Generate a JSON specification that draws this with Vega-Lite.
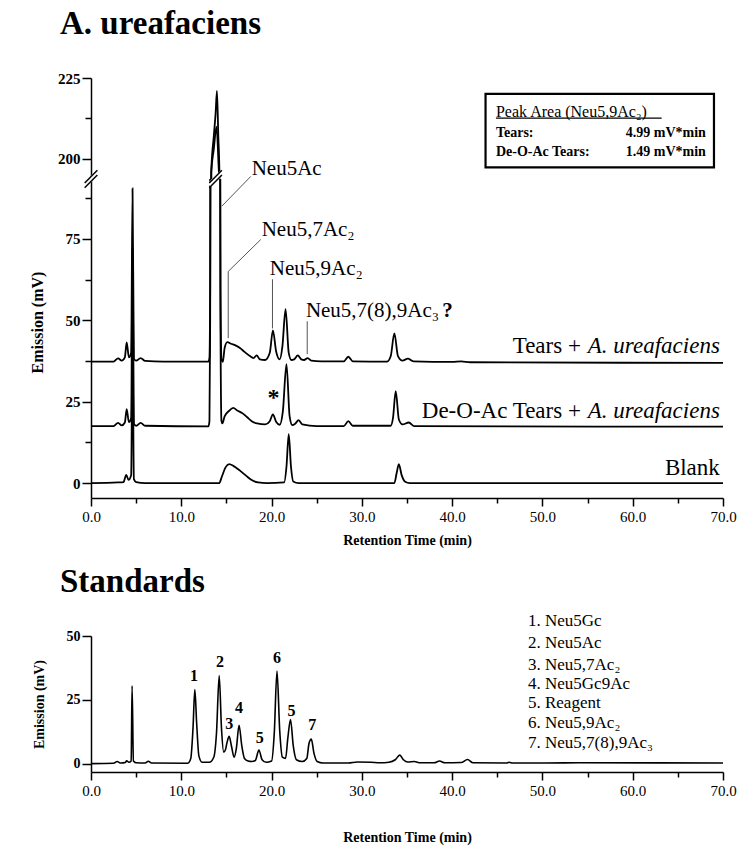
{
"$schema": "https://vega.github.io/schema/vega-lite/v6.json",
"background": "white",
"padding": {"left": 29, "top": 8, "right": 10, "bottom": 5},
"config": {
  "view": {"stroke": null},
  "font": "Liberation Serif",
  "axis": {"domainColor": "black", "domainWidth": 1.5, "tickColor": "black", "tickWidth": 1.5, "labelColor": "black", "titleColor": "black", "labelFont": "Liberation Serif", "titleFont": "Liberation Serif", "grid": false},
  "title": {"font": "Liberation Serif", "color": "black"},
  "text": {"font": "Liberation Serif", "color": "black"}
},
"title": {"text": "A. ureafaciens", "anchor": "start", "frame": "group", "fontSize": 33, "fontWeight": "bold", "dx": -31, "offset": 30},
"datasets": {
  "traces": [
    {"s":"Tears","t":0,"v":37.3},{"s":"Tears","t":2.5,"v":37.3},{"s":"Tears","t":3.0,"v":38.3},{"s":"Tears","t":3.4,"v":37.6},{"s":"Tears","t":3.75,"v":38.6},{"s":"Tears","t":3.95,"v":43.2},{"s":"Tears","t":4.2,"v":38.6},{"s":"Tears","t":4.45,"v":40},{"s":"Tears","t":4.6,"v":90.5},{"s":"Tears","t":4.75,"v":38.2},{"s":"Tears","t":5.0,"v":37.6},{"s":"Tears","t":5.5,"v":38.4},{"s":"Tears","t":6.0,"v":37.5},{"s":"Tears","t":8,"v":37.3},{"s":"Tears","t":13.0,"v":37.3},{"s":"Tears","t":13.12,"v":38.5},{"s":"Tears","t":13.2,"v":60},{"s":"Tears","t":13.26,"v":160},{"s":"Tears","t":13.32,"v":196},{"s":"Tears","t":13.6,"v":207},{"s":"Tears","t":13.8,"v":214},{"s":"Tears","t":13.95,"v":221},{"s":"Tears","t":14.1,"v":207},{"s":"Tears","t":14.22,"v":196},{"s":"Tears","t":14.28,"v":150},{"s":"Tears","t":14.34,"v":60},{"s":"Tears","t":14.45,"v":38},{"s":"Tears","t":14.6,"v":37.2},{"s":"Tears","t":14.8,"v":41.5},{"s":"Tears","t":15.1,"v":43.3},{"s":"Tears","t":15.5,"v":42.8},{"s":"Tears","t":16.0,"v":42.3},{"s":"Tears","t":16.5,"v":41.5},{"s":"Tears","t":17.0,"v":40.3},{"s":"Tears","t":17.6,"v":39},{"s":"Tears","t":18.0,"v":38.4},{"s":"Tears","t":18.35,"v":39.2},{"s":"Tears","t":18.7,"v":38},{"s":"Tears","t":19.3,"v":37.8},{"s":"Tears","t":19.8,"v":40},{"s":"Tears","t":20.15,"v":46.9},{"s":"Tears","t":20.5,"v":40.5},{"s":"Tears","t":20.9,"v":38},{"s":"Tears","t":21.2,"v":42},{"s":"Tears","t":21.55,"v":53.4},{"s":"Tears","t":21.9,"v":40},{"s":"Tears","t":22.2,"v":37.8},{"s":"Tears","t":22.5,"v":38},{"s":"Tears","t":22.9,"v":39.2},{"s":"Tears","t":23.3,"v":38},{"s":"Tears","t":23.6,"v":37.8},{"s":"Tears","t":24.0,"v":38.4},{"s":"Tears","t":24.4,"v":37.6},{"s":"Tears","t":25.5,"v":37.4},{"s":"Tears","t":28.0,"v":37.4},{"s":"Tears","t":28.5,"v":38.8},{"s":"Tears","t":29.0,"v":37.4},{"s":"Tears","t":32.8,"v":37.3},{"s":"Tears","t":33.2,"v":39},{"s":"Tears","t":33.6,"v":46},{"s":"Tears","t":34.0,"v":39},{"s":"Tears","t":34.5,"v":37.6},{"s":"Tears","t":35.1,"v":38.2},{"s":"Tears","t":35.7,"v":37.4},{"s":"Tears","t":40,"v":37.2},{"s":"Tears","t":41,"v":37.4},{"s":"Tears","t":42,"v":37.1},{"s":"Tears","t":70,"v":36.9},
    {"s":"DeOAc","t":0,"v":17.5},{"s":"DeOAc","t":2.5,"v":17.5},{"s":"DeOAc","t":3.0,"v":18.5},{"s":"DeOAc","t":3.4,"v":17.7},{"s":"DeOAc","t":3.75,"v":18.6},{"s":"DeOAc","t":3.95,"v":22.7},{"s":"DeOAc","t":4.2,"v":18.7},{"s":"DeOAc","t":4.45,"v":20},{"s":"DeOAc","t":4.6,"v":72},{"s":"DeOAc","t":4.75,"v":18.2},{"s":"DeOAc","t":5.0,"v":17.6},{"s":"DeOAc","t":5.5,"v":18.5},{"s":"DeOAc","t":6.0,"v":17.6},{"s":"DeOAc","t":13.0,"v":17.4},{"s":"DeOAc","t":13.12,"v":19},{"s":"DeOAc","t":13.2,"v":50},{"s":"DeOAc","t":13.26,"v":150},{"s":"DeOAc","t":13.32,"v":196},{"s":"DeOAc","t":13.6,"v":203},{"s":"DeOAc","t":13.9,"v":210},{"s":"DeOAc","t":14.1,"v":200},{"s":"DeOAc","t":14.22,"v":190},{"s":"DeOAc","t":14.28,"v":140},{"s":"DeOAc","t":14.34,"v":50},{"s":"DeOAc","t":14.45,"v":19},{"s":"DeOAc","t":14.55,"v":18.3},{"s":"DeOAc","t":14.8,"v":20.5},{"s":"DeOAc","t":15.3,"v":22.2},{"s":"DeOAc","t":15.75,"v":23.1},{"s":"DeOAc","t":16.2,"v":22.3},{"s":"DeOAc","t":16.8,"v":21.4},{"s":"DeOAc","t":17.3,"v":20.2},{"s":"DeOAc","t":17.8,"v":19},{"s":"DeOAc","t":18.4,"v":18.3},{"s":"DeOAc","t":19.3,"v":18},{"s":"DeOAc","t":19.8,"v":19},{"s":"DeOAc","t":20.15,"v":21.1},{"s":"DeOAc","t":20.5,"v":18.8},{"s":"DeOAc","t":20.9,"v":17.9},{"s":"DeOAc","t":21.25,"v":22},{"s":"DeOAc","t":21.65,"v":36.5},{"s":"DeOAc","t":22.0,"v":20.5},{"s":"DeOAc","t":22.3,"v":17.8},{"s":"DeOAc","t":22.6,"v":18.2},{"s":"DeOAc","t":23.0,"v":19.3},{"s":"DeOAc","t":23.4,"v":18},{"s":"DeOAc","t":25,"v":17.5},{"s":"DeOAc","t":28,"v":17.5},{"s":"DeOAc","t":28.5,"v":19},{"s":"DeOAc","t":29,"v":17.6},{"s":"DeOAc","t":33.2,"v":17.6},{"s":"DeOAc","t":33.45,"v":20},{"s":"DeOAc","t":33.75,"v":28.2},{"s":"DeOAc","t":34.1,"v":19.5},{"s":"DeOAc","t":34.5,"v":18},{"s":"DeOAc","t":35.2,"v":18.6},{"s":"DeOAc","t":35.8,"v":17.5},{"s":"DeOAc","t":70,"v":17.3},
    {"s":"Blank","t":0,"v":0},{"s":"Blank","t":3.0,"v":0.2},{"s":"Blank","t":3.6,"v":0.3},{"s":"Blank","t":3.9,"v":2.5},{"s":"Blank","t":4.15,"v":1},{"s":"Blank","t":4.45,"v":2.5},{"s":"Blank","t":4.6,"v":45},{"s":"Blank","t":4.75,"v":1.2},{"s":"Blank","t":5.0,"v":0.3},{"s":"Blank","t":6,"v":0},{"s":"Blank","t":14.2,"v":0},{"s":"Blank","t":14.5,"v":2},{"s":"Blank","t":14.9,"v":4.8},{"s":"Blank","t":15.3,"v":5.8},{"s":"Blank","t":15.8,"v":5.2},{"s":"Blank","t":16.5,"v":3.8},{"s":"Blank","t":17.2,"v":2.2},{"s":"Blank","t":17.8,"v":0.9},{"s":"Blank","t":18.5,"v":0.2},{"s":"Blank","t":19.5,"v":0},{"s":"Blank","t":21.4,"v":0.2},{"s":"Blank","t":21.65,"v":5},{"s":"Blank","t":21.9,"v":15},{"s":"Blank","t":22.15,"v":5},{"s":"Blank","t":22.4,"v":0.5},{"s":"Blank","t":23,"v":0},{"s":"Blank","t":33.6,"v":0},{"s":"Blank","t":33.85,"v":3},{"s":"Blank","t":34.1,"v":5.8},{"s":"Blank","t":34.4,"v":2.5},{"s":"Blank","t":34.8,"v":0.4},{"s":"Blank","t":35.3,"v":0},{"s":"Blank","t":70,"v":0}
  ],
  "std": [
    {"t":0,"v":0},{"t":2.5,"v":0.1},{"t":2.9,"v":0.8},{"t":3.3,"v":0.2},{"t":3.8,"v":0.4},{"t":3.95,"v":1.1},{"t":4.2,"v":0.5},{"t":4.45,"v":1},{"t":4.55,"v":30.5},{"t":4.7,"v":1},{"t":5.0,"v":0.3},{"t":6.0,"v":0.2},{"t":6.35,"v":0.9},{"t":6.7,"v":0.2},{"t":10.7,"v":0.1},{"t":11.05,"v":2},{"t":11.3,"v":14},{"t":11.5,"v":29},{"t":11.7,"v":16},{"t":11.95,"v":3},{"t":12.3,"v":0.5},{"t":13.1,"v":0.5},{"t":13.6,"v":2.5},{"t":13.9,"v":12},{"t":14.2,"v":34.5},{"t":14.45,"v":14},{"t":14.7,"v":4.5},{"t":14.9,"v":5.5},{"t":15.05,"v":8},{"t":15.3,"v":10.7},{"t":15.55,"v":7},{"t":15.85,"v":2.5},{"t":16.1,"v":6},{"t":16.4,"v":15},{"t":16.7,"v":7},{"t":17.0,"v":2},{"t":17.4,"v":1},{"t":17.8,"v":0.8},{"t":18.2,"v":1.2},{"t":18.6,"v":5.3},{"t":18.95,"v":1.5},{"t":19.4,"v":0.5},{"t":20.0,"v":1},{"t":20.3,"v":12},{"t":20.6,"v":36.3},{"t":20.9,"v":13},{"t":21.2,"v":2.5},{"t":21.55,"v":2},{"t":21.8,"v":10},{"t":22.1,"v":17.3},{"t":22.4,"v":7},{"t":22.75,"v":1.5},{"t":23.4,"v":0.8},{"t":23.9,"v":2},{"t":24.15,"v":8},{"t":24.4,"v":9.6},{"t":24.7,"v":4},{"t":25.05,"v":0.8},{"t":25.7,"v":0.2},{"t":28.5,"v":0.2},{"t":29.5,"v":0.6},{"t":31,"v":0.5},{"t":32,"v":0.3},{"t":33.0,"v":0.5},{"t":33.7,"v":1.5},{"t":34.2,"v":3.3},{"t":34.6,"v":1.5},{"t":35.1,"v":0.6},{"t":35.8,"v":0.8},{"t":36.5,"v":0.3},{"t":38.0,"v":0.3},{"t":38.6,"v":1},{"t":39.2,"v":0.3},{"t":41.0,"v":0.4},{"t":41.7,"v":1.6},{"t":42.3,"v":0.3},{"t":46.0,"v":0.2},{"t":46.3,"v":0.5},{"t":46.7,"v":0.2},{"t":54,"v":0.3},{"t":70,"v":0.2}
  ]
},
"spacing": 18,
"bounds": "full",
"vconcat": [
  {
    "spacing": 0,
    "bounds": "flush",
    "vconcat": [
      {
        "width": 632, "height": 101,
        "layer": [
          {
            "data": {"name": "traces"},
            "mark": {"type": "line", "color": "black", "strokeWidth": 1.8, "clip": true, "interpolate": "monotone"},
            "encoding": {
              "x": {"field": "t", "type": "quantitative", "scale": {"domain": [0, 70], "nice": false, "zero": false}, "axis": null},
              "y": {"field": "v", "type": "quantitative", "scale": {"domain": [193.8, 225], "nice": false, "zero": false},
                    "axis": {"values": [200, 212.5, 225], "labelExpr": "datum.value % 25 === 0 ? format(datum.value, 'd') : ''", "tickSize": {"condition": {"test": "datum.value % 25 === 0", "value": 9}, "value": 6}, "labelFontSize": 15, "labelFontWeight": "bold", "labelPadding": 2, "title": null}},
              "detail": {"field": "s"}
            }
          },
          {
            "data": {"values": [{"x1": 43.7, "x2": 69.0, "y1": 197.4, "y2": 220.1}]},
            "mark": {"type": "rect", "fill": "white", "stroke": "black", "strokeWidth": 2.2},
            "encoding": {"x": {"field": "x1", "type": "quantitative"}, "x2": {"field": "x2"}, "y": {"field": "y1", "type": "quantitative"}, "y2": {"field": "y2"}}
          },
          {
            "data": {"values": [{"t": 44.85, "v": 214.6, "label": "Peak Area (Neu5,9Ac₂)"}]},
            "mark": {"type": "text", "align": "left", "baseline": "middle", "fontSize": 16},
            "encoding": {"x": {"field": "t", "type": "quantitative"}, "y": {"field": "v", "type": "quantitative"}, "text": {"field": "label"}}
          },
          {
            "data": {"values": [{"x1": 44.85, "x2": 63.2, "y": 212.6}]},
            "mark": {"type": "rule", "color": "black", "strokeWidth": 1.2},
            "encoding": {"x": {"field": "x1", "type": "quantitative"}, "x2": {"field": "x2"}, "y": {"field": "y", "type": "quantitative"}}
          },
          {
            "data": {"values": [{"t": 44.85, "v": 208.1, "label": "Tears:"}, {"t": 44.85, "v": 202, "label": "De-O-Ac Tears:"}]},
            "mark": {"type": "text", "align": "left", "baseline": "middle", "fontSize": 14, "fontWeight": "bold"},
            "encoding": {"x": {"field": "t", "type": "quantitative"}, "y": {"field": "v", "type": "quantitative"}, "text": {"field": "label"}}
          },
          {
            "data": {"values": [{"t": 68.1, "v": 208.1, "label": "4.99 mV*min"}, {"t": 68.1, "v": 202, "label": "1.49 mV*min"}]},
            "mark": {"type": "text", "align": "right", "baseline": "middle", "fontSize": 14, "fontWeight": "bold"},
            "encoding": {"x": {"field": "t", "type": "quantitative"}, "y": {"field": "v", "type": "quantitative"}, "text": {"field": "label"}}
          }
        ]
      },
      {
        "width": 632, "height": 319,
        "layer": [
          {
            "data": {"name": "traces"},
            "mark": {"type": "line", "color": "black", "strokeWidth": 1.8, "clip": true, "interpolate": "monotone"},
            "encoding": {
              "x": {"field": "t", "type": "quantitative", "scale": {"domain": [0, 70], "nice": false, "zero": false},
                    "axis": {"values": [0,2.5,5,7.5,10,12.5,15,17.5,20,22.5,25,27.5,30,32.5,35,37.5,40,42.5,45,47.5,50,52.5,55,57.5,60,62.5,65,67.5,70], "labelExpr": "datum.value % 10 === 0 ? format(datum.value, '.1f') : ''", "labelOverlap": false, "tickSize": {"condition": {"test": "datum.value % 10 === 0", "value": 8}, "value": 5}, "labelFontSize": 15, "labelPadding": 3, "labelFlush": false, "title": "Retention Time (min)", "titleFontSize": 14, "titleFontWeight": "bold", "titlePadding": 9}},
              "y": {"field": "v", "type": "quantitative", "scale": {"domain": [-4.6, 93.4], "nice": false, "zero": false},
                    "axis": {"values": [0, 12.5, 25, 37.5, 50, 62.5, 75, 87.5], "labelExpr": "datum.value % 25 === 0 ? format(datum.value, 'd') : ''", "tickSize": {"condition": {"test": "datum.value % 25 === 0", "value": 9}, "value": 6}, "labelFontSize": 15, "labelFontWeight": "bold", "labelPadding": 2, "title": "Emission (mV)", "titleFontSize": 16, "titleFontWeight": "bold", "titlePadding": 20, "titleY": 143}},
              "detail": {"field": "s"}
            }
          },
          {
            "data": {"values": [{"g":1,"o":1,"t":17.7,"v":94.2},{"g":1,"o":2,"t":14.47,"v":85.0},{"g":2,"o":1,"t":18.8,"v":74.8},{"g":2,"o":2,"t":15.2,"v":65},{"g":2,"o":3,"t":15.2,"v":44.5},{"g":3,"o":1,"t":20.1,"v":62.6},{"g":3,"o":2,"t":20.1,"v":47.5},{"g":4,"o":1,"t":23.95,"v":49.7},{"g":4,"o":2,"t":23.95,"v":39.6}]},
            "mark": {"type": "line", "color": "#555555", "strokeWidth": 1},
            "encoding": {"x": {"field": "t", "type": "quantitative"}, "y": {"field": "v", "type": "quantitative"}, "detail": {"field": "g"}, "order": {"field": "o"}}
          },
          {
            "data": {"values": [{"t": 17.8, "v": 96.6, "label": "Neu5Ac"}, {"t": 18.9, "v": 77.6, "label": "Neu5,7Ac₂"}, {"t": 19.8, "v": 65.6, "label": "Neu5,9Ac₂"}, {"t": 23.8, "v": 52.8, "label": "Neu5,7(8),9Ac₃"}]},
            "mark": {"type": "text", "align": "left", "baseline": "middle", "fontSize": 21},
            "encoding": {"x": {"field": "t", "type": "quantitative"}, "y": {"field": "v", "type": "quantitative"}, "text": {"field": "label"}}
          },
          {
            "data": {"values": [{"t": 38.9, "v": 52.8, "label": "?"}]},
            "mark": {"type": "text", "align": "left", "baseline": "middle", "fontSize": 21, "fontWeight": "bold"},
            "encoding": {"x": {"field": "t", "type": "quantitative"}, "y": {"field": "v", "type": "quantitative"}, "text": {"field": "label"}}
          },
          {
            "data": {"values": [{"t": 20.2, "v": 24, "label": "*"}]},
            "mark": {"type": "text", "align": "center", "baseline": "alphabetic", "fontSize": 24, "fontWeight": "bold"},
            "encoding": {"x": {"field": "t", "type": "quantitative"}, "y": {"field": "v", "type": "quantitative"}, "text": {"field": "label"}}
          },
          {
            "data": {"values": [{"t": 54.26, "v": 42, "label": "Tears +"}, {"t": 54.26, "v": 22, "label": "De-O-Ac Tears +"}, {"t": 69.65, "v": 4.6, "label": "Blank"}]},
            "mark": {"type": "text", "align": "right", "baseline": "middle", "fontSize": 23},
            "encoding": {"x": {"field": "t", "type": "quantitative"}, "y": {"field": "v", "type": "quantitative"}, "text": {"field": "label"}}
          },
          {
            "data": {"values": [{"t": 69.65, "v": 42, "label": "A. ureafaciens"}, {"t": 69.65, "v": 22, "label": "A. ureafaciens"}]},
            "mark": {"type": "text", "align": "right", "baseline": "middle", "fontSize": 23, "fontStyle": "italic"},
            "encoding": {"x": {"field": "t", "type": "quantitative"}, "y": {"field": "v", "type": "quantitative"}, "text": {"field": "label"}}
          },
          {
            "data": {"values": [{"x1": -0.7, "y1": 91.46, "x2": 0.7, "y2": 95.34}, {"x1": 13.1, "y1": 91.46, "x2": 14.5, "y2": 95.34}]},
            "mark": {"type": "rule", "color": "white", "strokeWidth": 5},
            "encoding": {"x": {"field": "x1", "type": "quantitative"}, "y": {"field": "y1", "type": "quantitative"}, "x2": {"field": "x2"}, "y2": {"field": "y2"}}
          },
          {
            "data": {"values": [{"x1": -0.7, "y1": 90.7, "x2": 0.7, "y2": 94.6}, {"x1": -0.7, "y1": 92.2, "x2": 0.7, "y2": 96.1}, {"x1": 13.1, "y1": 90.7, "x2": 14.5, "y2": 94.6}, {"x1": 13.1, "y1": 92.2, "x2": 14.5, "y2": 96.1}]},
            "mark": {"type": "rule", "color": "black", "strokeWidth": 1.5},
            "encoding": {"x": {"field": "x1", "type": "quantitative"}, "y": {"field": "y1", "type": "quantitative"}, "x2": {"field": "x2"}, "y2": {"field": "y2"}}
          }
        ]
      }
    ]
  },
  {
    "width": 632, "height": 136,
    "title": {"text": "Standards", "anchor": "start", "frame": "group", "fontSize": 33, "fontWeight": "bold", "dx": -31, "offset": 13},
    "layer": [
      {
        "data": {"name": "std"},
        "mark": {"type": "line", "color": "black", "strokeWidth": 1.6, "clip": true, "interpolate": "monotone"},
        "encoding": {
          "x": {"field": "t", "type": "quantitative", "scale": {"domain": [0, 70], "nice": false, "zero": false},
                "axis": {"values": [0,2.5,5,7.5,10,12.5,15,17.5,20,22.5,25,27.5,30,32.5,35,37.5,40,42.5,45,47.5,50,52.5,55,57.5,60,62.5,65,67.5,70], "labelExpr": "datum.value % 10 === 0 ? format(datum.value, '.1f') : ''", "labelOverlap": false, "tickSize": {"condition": {"test": "datum.value % 10 === 0", "value": 8}, "value": 5}, "labelFontSize": 15, "labelPadding": 3, "labelFlush": false, "title": "Retention Time (min)", "titleFontSize": 14, "titleFontWeight": "bold", "titlePadding": 32}},
          "y": {"field": "v", "type": "quantitative", "scale": {"domain": [-3.3, 50], "nice": false, "zero": false},
                "axis": {"values": [0, 12.5, 25, 37.5, 50], "labelExpr": "datum.value % 25 === 0 ? format(datum.value, 'd') : ''", "tickSize": {"condition": {"test": "datum.value % 25 === 0", "value": 9}, "value": 6}, "labelFontSize": 14, "labelFontWeight": "bold", "labelPadding": 2, "title": "Emission (mV)", "titleFontSize": 14, "titleFontWeight": "bold", "titlePadding": 20}}
        }
      },
      {
        "data": {"values": [{"t":11.4,"v":34.2,"l":"1"},{"t":14.3,"v":39.7,"l":"2"},{"t":15.3,"v":15.6,"l":"3"},{"t":16.4,"v":21.8,"l":"4"},{"t":18.7,"v":10.1,"l":"5"},{"t":20.6,"v":41.2,"l":"6"},{"t":22.2,"v":20.5,"l":"5"},{"t":24.5,"v":15.2,"l":"7"}]},
        "mark": {"type": "text", "align": "center", "baseline": "middle", "fontSize": 16, "fontWeight": "bold"},
        "encoding": {"x": {"field": "t", "type": "quantitative"}, "y": {"field": "v", "type": "quantitative"}, "text": {"field": "l"}}
      },
      {
        "data": {"values": [{"t":48.4,"v":55.9,"l":"1. Neu5Gc"},{"t":48.4,"v":47.3,"l":"2. Neu5Ac"},{"t":48.4,"v":38.6,"l":"3. Neu5,7Ac₂"},{"t":48.4,"v":31.2,"l":"4. Neu5Gc9Ac"},{"t":48.4,"v":23.7,"l":"5. Reagent"},{"t":48.4,"v":15.9,"l":"6. Neu5,9Ac₂"},{"t":48.4,"v":8.1,"l":"7. Neu5,7(8),9Ac₃"}]},
        "mark": {"type": "text", "align": "left", "baseline": "middle", "fontSize": 17},
        "encoding": {"x": {"field": "t", "type": "quantitative"}, "y": {"field": "v", "type": "quantitative"}, "text": {"field": "l"}}
      }
    ]
  }
]
}
